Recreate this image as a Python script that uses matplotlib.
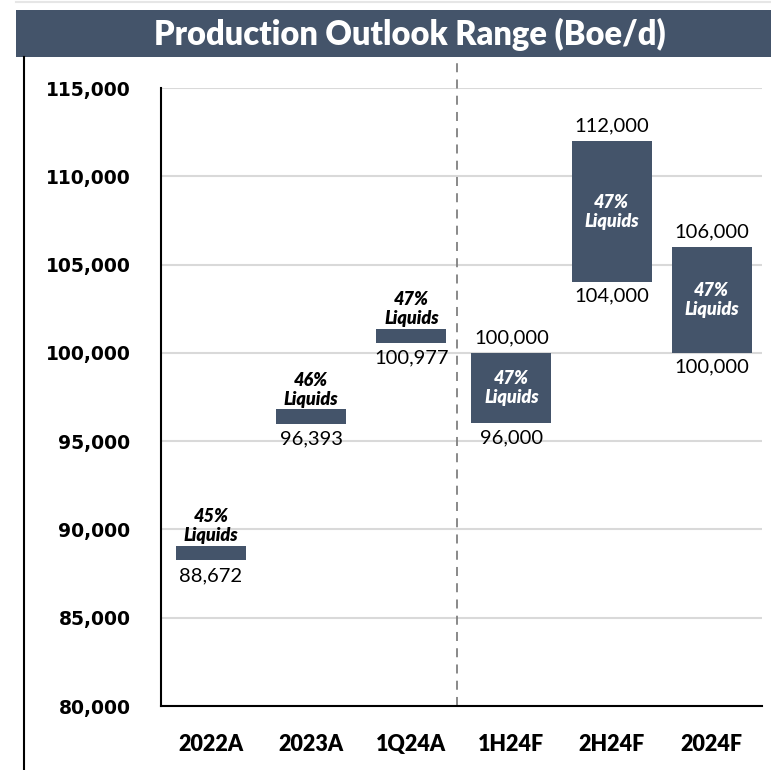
import matplotlib
matplotlib.use("Agg")
import matplotlib.pyplot as plt
from matplotlib.patches import Rectangle
from matplotlib.lines import Line2D

categories = ["2022A", "2023A", "1Q24A", "1H24F", "2H24F", "2024F"]
actual_cats = ["2022A", "2023A", "1Q24A"]
actual_values = [88672, 96393, 100977]
range_cats = ["1H24F", "2H24F", "2024F"]
range_low = [96000, 104000, 100000]
range_high = [100000, 112000, 106000]
actual_liquids = ["45%", "46%", "47%"]
range_liquids = ["47%", "47%", "47%"]
yticks = [80000, 85000, 90000, 95000, 100000, 105000, 110000, 115000]

BAR = "#44546a"
NUM_FONT = ["Lato", "DejaVu Sans"]

fig = plt.figure(figsize=(7.71, 7.70), dpi=100)
ax = fig.add_axes([0.2088, 0.0831, 0.7792, 0.8026])

xpos = {c: i for i, c in enumerate(categories)}
marker_h = 800  # thickness of the actual-value markers

liq_style = dict(fontsize=13, family=NUM_FONT, fontweight="heavy", fontstyle="italic",
                 linespacing=1.15)

# actuals: thin markers centred on the value
for c, v, liq in zip(actual_cats, actual_values, actual_liquids):
    x = xpos[c]
    ax.bar(x, marker_h, bottom=v - marker_h / 2, width=0.7, color=BAR, zorder=3)
    ax.annotate(f"{v:,}", (x, v - marker_h / 2), xytext=(0, -5), textcoords="offset points",
                ha="center", va="top", fontsize=14.5, family=NUM_FONT, color="black")
    ax.annotate(f"{liq}\nLiquids", (x, v + marker_h / 2), xytext=(0, 1), textcoords="offset points",
                ha="center", va="bottom", color="black", **liq_style)

# guidance: floating range bars
for c, lo, hi, liq in zip(range_cats, range_low, range_high, range_liquids):
    x = xpos[c]
    ax.bar(x, hi - lo, bottom=lo, width=0.8, color=BAR, zorder=3)
    ax.annotate(f"{hi:,}", (x, hi), xytext=(0, 5), textcoords="offset points",
                ha="center", va="bottom", fontsize=14.5, family=NUM_FONT, color="black")
    ax.annotate(f"{lo:,}", (x, lo), xytext=(0, -4), textcoords="offset points",
                ha="center", va="top", fontsize=14.5, family=NUM_FONT, color="black")
    ax.text(x, (lo + hi) / 2, f"{liq}\nLiquids", ha="center", va="center",
            color="white", zorder=4, **liq_style)

ax.set_xlim(-0.5, 5.5)
ax.set_ylim(80000, 115000)
ax.set_yticks(yticks)
ax.set_yticklabels([f"{t:,}" for t in yticks], fontsize=13.5, fontweight="bold",
                   family="DejaVu Sans")
ax.set_xticks(range(len(categories)))
ax.set_xticklabels(categories, fontsize=15.5, fontweight="heavy", family=NUM_FONT)
ax.tick_params(axis="y", length=0, pad=22)
ax.tick_params(axis="x", length=0, pad=20)

ax.grid(axis="y", color="#d9d9d9", linewidth=1.5, zorder=0)
ax.set_axisbelow(True)
for s in ["top", "right"]:
    ax.spines[s].set_visible(False)
ax.spines["left"].set_linewidth(1.5)
ax.spines["bottom"].set_linewidth(1.5)

# actual / forecast divider
ax.axvline(2.46, ymin=0, ymax=1.042, color="#808080", linestyle=(0, (5, 4)),
           linewidth=1.3, clip_on=False, zorder=2)

# title banner
fig.patches.append(Rectangle((0.0208, 0.926), 0.98, 0.061, transform=fig.transFigure,
                             facecolor=BAR, edgecolor="none"))
fig.text(0.532, 0.9555, "Production Outlook Range (Boe/d)", ha="center", va="center",
         color="white", fontsize=23.5, fontweight="heavy", family=NUM_FONT)
fig.lines.append(Line2D([0.031, 0.031], [0.0, 0.926], transform=fig.transFigure,
                        color="black", linewidth=1.5))
fig.lines.append(Line2D([0.0208, 1.0], [0.998, 0.998], transform=fig.transFigure,
                        color="#e6e6e6", linewidth=1.5))

fig.savefig("out.png", dpi=100)
